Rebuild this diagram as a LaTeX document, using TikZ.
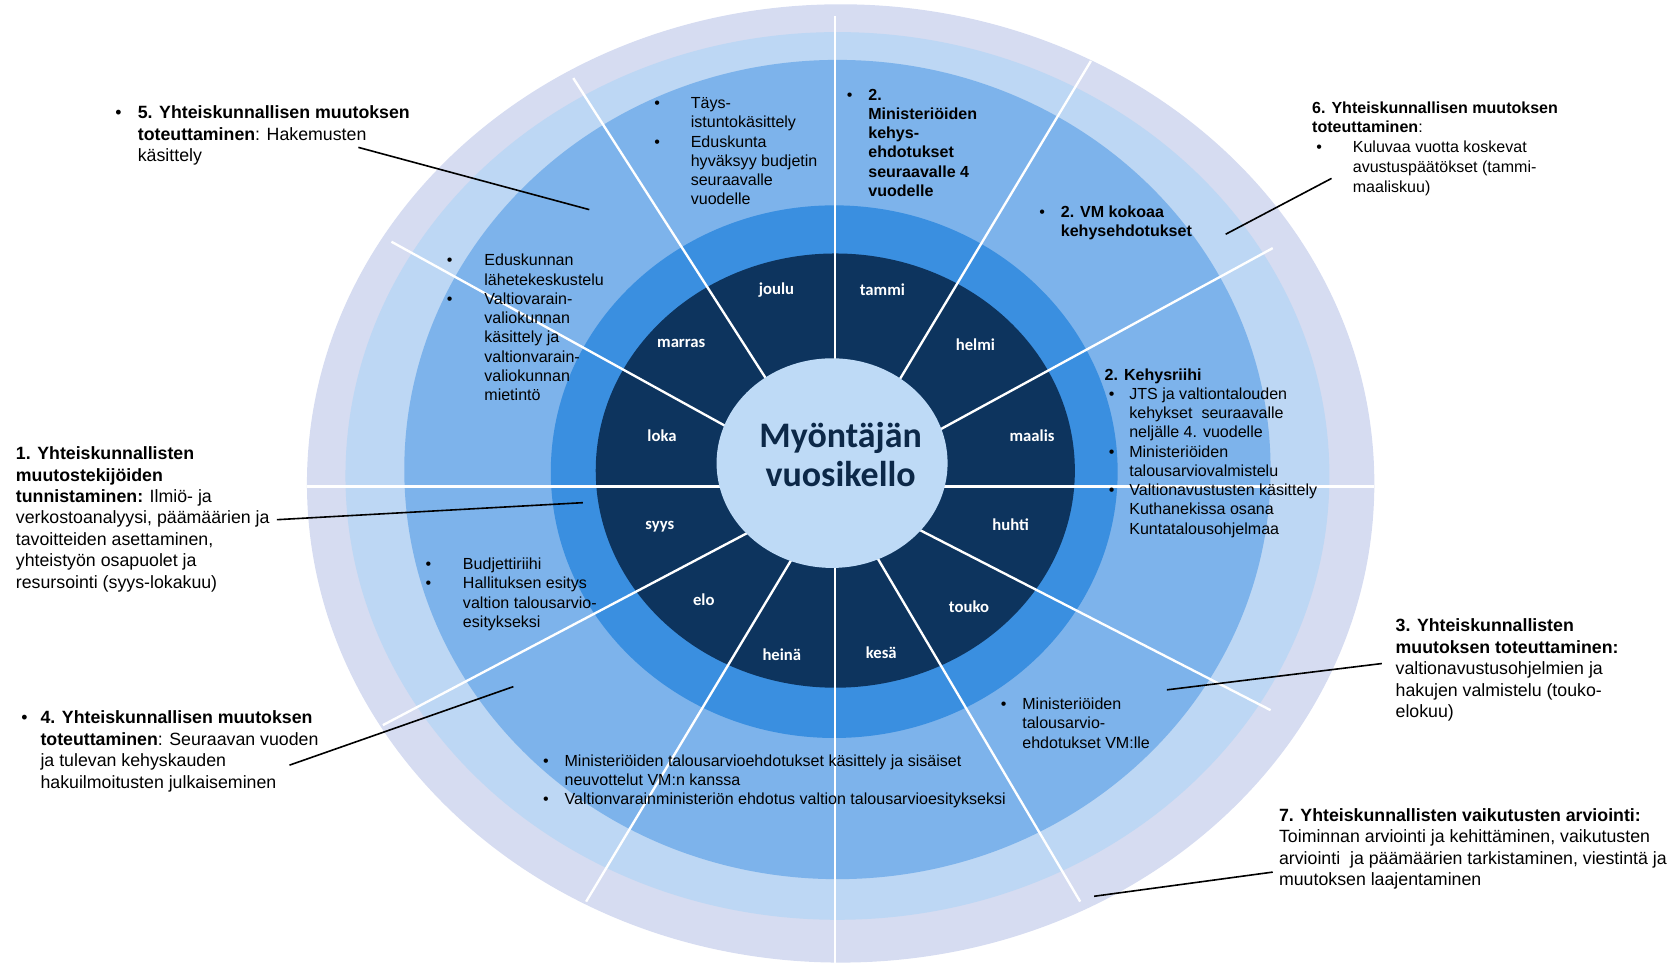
\documentclass[tikz,border=0pt]{standalone}
\usepackage{fontspec}
\setmainfont{Liberation Sans}
\newfontfamily\calibri{Carlito}
\usepackage{array}

\definecolor{ringLav}{RGB}{214,220,241}
\definecolor{ringLight}{RGB}{189,215,244}
\definecolor{ringMid}{RGB}{125,179,235}
\definecolor{ringBright}{RGB}{58,143,224}
\definecolor{ringNavy}{RGB}{13,52,94}
\definecolor{hubFill}{RGB}{190,218,246}
\definecolor{hubText}{RGB}{12,40,72}

\begin{document}
\begin{tikzpicture}[x=0.5pt,y=0.5pt,yscale=-1,xscale=1,
  outertxt/.style={anchor=north west, inner sep=0.75pt, font=\fontsize{8.3}{10}\selectfont},
  innertxt/.style={anchor=north west, inner sep=0.75pt, font=\fontsize{7.5}{9}\selectfont},
  monthtxt/.style={inner sep=0.75pt, text=white, font=\calibri\bfseries\fontsize{7.8}{9}\selectfont},
  divider/.style={draw=white, line width=1.1pt},
  callout/.style={draw=black, line width=0.75pt}]
\useasboundingbox (0,0) rectangle (1568,900);
\clip (0,0) rectangle (1568,900);

%Shape: Ellipse [outer ring]
\draw [draw=none, fill=ringLav] (786,452) ellipse [x radius=499, y radius=448];
%Shape: Ellipse
\draw [draw=none, fill=ringLight] (783,445) ellipse [x radius=460, y radius=415];
%Shape: Ellipse
\draw [draw=none, fill=ringMid] (783,439) ellipse [x radius=405, y radius=383];
%Shape: Ellipse
\draw [draw=none, fill=ringBright] (780,441) ellipse [x radius=265, y radius=249];
%Shape: Ellipse [months]
\draw [draw=none, fill=ringNavy] (781,440) ellipse [x radius=224, y radius=203];

%Straight Lines [dividers]
\draw [divider] (781,455) -- (781,15) ;
\draw [divider] (781,455) -- (1020,57) ;
\draw [divider] (781,455) -- (1190,232) ;
\draw [divider] (781,455) -- (1285,455) ;
\draw [divider] (781,455) -- (1188,664) ;
\draw [divider] (781,455) -- (1010,843) ;
\draw [divider] (781,455) -- (781,900) ;
\draw [divider] (781,455) -- (548,843) ;
\draw [divider] (781,455) -- (358,678) ;
\draw [divider] (781,455) -- (287,455) ;
\draw [divider] (781,455) -- (366,226) ;
\draw [divider] (781,455) -- (536,73) ;

%Shape: Ellipse [hub]
\draw [draw=none, fill=hubFill] (778,433) ellipse [x radius=108, y radius=98];
% Text Node
\draw (786,425) node [text=hubText, align=center, font=\calibri\bfseries\fontsize{16.8}{18}\selectfont] (hub) {Myöntäjän\\vuosikello};

% Month Nodes
\draw (726,271) node [monthtxt] (joulu) {joulu};
\draw (825,271) node [monthtxt] (tammi) {tammi};
\draw (912,322) node [monthtxt] (helmi) {helmi};
\draw (965,407) node [monthtxt] (maalis) {maalis};
\draw (945,491) node [monthtxt] (huhti) {huhti};
\draw (906,567) node [monthtxt] (touko) {touko};
\draw (824,610) node [monthtxt] (kesa) {kesä};
\draw (731,612) node [monthtxt] (heina) {heinä};
\draw (658,561) node [monthtxt] (elo) {elo};
\draw (617,492) node [monthtxt] (syys) {syys};
\draw (619,407) node [monthtxt] (loka) {loka};
\draw (637,321) node [monthtxt] (marras) {marras};

% Text Node
\draw (610,87) node [innertxt] (tays) {\begin{tabular}{@{}p{17pt}@{}l@{}}
\textbullet & Täys-\\
 & istuntokäsittely\\
\textbullet & Eduskunta\\
 & hyväksyy budjetin\\
 & seuraavalle\\
 & vuodelle
\end{tabular}};
% Text Node
\draw (790,79) node [innertxt] (kehysehd) {\begin{tabular}{@{}p{10pt}@{}l@{}}
\textbullet & \textbf{2.}\\
 & \textbf{Ministeriöiden}\\
 & \textbf{kehys-}\\
 & \textbf{ehdotukset}\\
 & \textbf{seuraavalle 4}\\
 & \textbf{vuodelle}
\end{tabular}};
% Text Node
\draw (970,189) node [innertxt] (vmkokoaa) {\begin{tabular}{@{}p{10pt}@{}l@{}}
\textbullet & \textbf{2. VM kokoaa}\\
 & \textbf{kehysehdotukset}
\end{tabular}};
% Text Node
\draw (1031,341) node [innertxt] (kehysriihi) {\begin{tabular}{@{}p{11.5pt}@{}l@{}}
\multicolumn{2}{@{}l@{}}{\textbf{2. Kehysriihi}}\\
\hspace{2pt}\textbullet & JTS ja valtiontalouden\\
 & kehykset\ \ seuraavalle\\
 & neljälle 4. vuodelle\\
\hspace{2pt}\textbullet & Ministeriöiden\\
 & talousarviovalmistelu\\
\hspace{2pt}\textbullet & Valtionavustusten käsittely\\
 & Kuthanekissa osana\\
 & Kuntatalousohjelmaa
\end{tabular}};
% Text Node
\draw (416,234) node [innertxt] (eduskunta) {\begin{tabular}{@{}p{17.5pt}@{}l@{}}
\textbullet & Eduskunnan\\
 & lähetekeskustelu\\
\textbullet & Valtiovarain-\\
 & valiokunnan\\
 & käsittely ja\\
 & valtionvarain-\\
 & valiokunnan\\
 & mietintö
\end{tabular}};
% Text Node
\draw (396,518) node [innertxt] (budjetti) {\begin{tabular}{@{}p{17.5pt}@{}l@{}}
\textbullet & Budjettiriihi\\
\textbullet & Hallituksen esitys\\
 & valtion talousarvio-\\
 & esitykseksi
\end{tabular}};
% Text Node
\draw (506,702) node [innertxt] (talousarvio) {\begin{tabular}{@{}p{10pt}@{}l@{}}
\textbullet & Ministeriöiden talousarvioehdotukset käsittely ja sisäiset\\
 & neuvottelut VM:n kanssa\\
\textbullet & Valtionvarainministeriön ehdotus valtion talousarvioesitykseksi
\end{tabular}};
% Text Node
\draw (934,649) node [innertxt] (ehdvm) {\begin{tabular}{@{}p{10pt}@{}l@{}}
\textbullet & Ministeriöiden\\
 & talousarvio-\\
 & ehdotukset VM:lle
\end{tabular}};

% Text Node [outer phases]
\draw (106,95) node [outertxt] (vaihe5) {\begin{tabular}{@{}p{10.5pt}@{}l@{}}
\textbullet & \textbf{5. Yhteiskunnallisen muutoksen}\\
 & \textbf{toteuttaminen}: Hakemusten\\
 & käsittely
\end{tabular}};
% Text Node
\draw (1225,91) node [innertxt, font=\fontsize{7.5}{9.25}\selectfont] (vaihe6) {\begin{tabular}{@{}p{19pt}@{}l@{}}
\multicolumn{2}{@{}l@{}}{\textbf{6. Yhteiskunnallisen muutoksen}}\\
\multicolumn{2}{@{}l@{}}{\textbf{toteuttaminen}:}\\
\hspace{2pt}\textbullet & Kuluvaa vuotta koskevat\\
 & avustuspäätökset (tammi-\\
 & maaliskuu)
\end{tabular}};
% Text Node
\draw (13,414) node [outertxt] (vaihe1) {\begin{tabular}{@{}l@{}}
\textbf{1. Yhteiskunnallisten}\\
\textbf{muutostekijöiden}\\
\textbf{tunnistaminen:} Ilmiö- ja\\
verkostoanalyysi, päämäärien ja\\
tavoitteiden asettaminen,\\
yhteistyön osapuolet ja\\
resursointi (syys-lokakuu)
\end{tabular}};
% Text Node
\draw (18,661) node [outertxt] (vaihe4) {\begin{tabular}{@{}p{9pt}@{}l@{}}
\textbullet & \textbf{4. Yhteiskunnallisen muutoksen}\\
 & \textbf{toteuttaminen}: Seuraavan vuoden\\
 & ja tulevan kehyskauden\\
 & hakuilmoitusten julkaiseminen
\end{tabular}};
% Text Node
\draw (1303,575) node [outertxt] (vaihe3) {\begin{tabular}{@{}l@{}}
\textbf{3. Yhteiskunnallisten}\\
\textbf{muutoksen toteuttaminen:}\\
valtionavustusohjelmien ja\\
hakujen valmistelu (touko-\\
elokuu)
\end{tabular}};
% Text Node
\draw (1194,752) node [outertxt] (vaihe7) {\begin{tabular}{@{}l@{}}
\textbf{7. Yhteiskunnallisten vaikutusten arviointi:}\\
Toiminnan arviointi ja kehittäminen, vaikutusten\\
arviointi\ \ ja päämäärien tarkistaminen, viestintä ja\\
muutoksen laajentaminen
\end{tabular}};

%Straight Lines [callouts]
\coordinate (p5) at (551,196);
\coordinate (p6) at (1146,219);
\coordinate (p1) at (545,470);
\coordinate (p4) at (480,642);
\coordinate (p3) at (1091,645);
\coordinate (p7) at (1023,838);
\draw [callout] ([shift={(-25pt,-10.5pt)}]vaihe5.south east) -- (p5) ;
\draw [callout] ([shift={(10pt,-10.25pt)}]vaihe6.south west) -- (p6) ;
\draw [callout] ([xshift=2.5pt]vaihe1.east) -- (p1) ;
\draw [callout] ([shift={(-14.5pt,6.25pt)}]vaihe4.east) -- (p4) ;
\draw [callout] ([shift={(-5.5pt,-3.25pt)}]vaihe3.west) -- (p3) ;
\draw [callout] ([shift={(-2pt,10.75pt)}]vaihe7.west) -- (p7) ;

\end{tikzpicture}
\end{document}
